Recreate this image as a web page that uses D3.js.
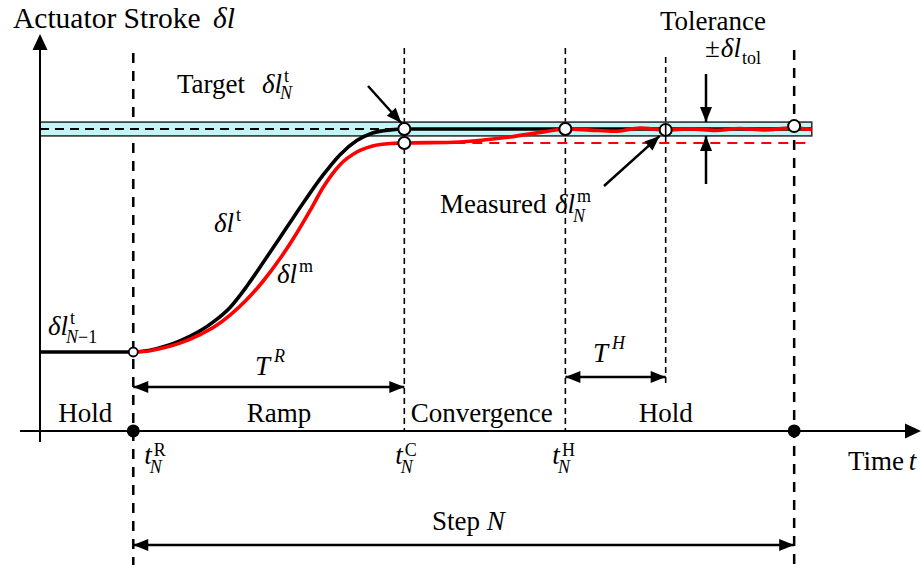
<!DOCTYPE html>
<html>
<head>
<meta charset="utf-8">
<script src="https://cdn.jsdelivr.net/npm/d3@7"></script>
<style>
  body { margin: 0; background: #fff; }
  text { font-family: "Liberation Serif", "Times New Roman", serif; fill: #000; }
</style>
</head>
<body>
<div id="chart"></div>
<script>
// 1: SIZES
const W = 923, H = 565;
const mainSize = 27, smallSize = 18;

// 2: DATA (time in arbitrary units 0..100, stroke normalised: previous = 0, target = 1)
const keyTimes = [10.6, 41.4, 59.7, 71.1, 85.7];   // tR, tC, tH, tH + TH, end of step
const bandEnd = 87.7;
const tolerance = 0.031;
const measuredOffset = 0.937;                       // early settling level of measured stroke
const axisStroke = -0.354;                          // where the time axis sits

// commanded (target) stroke  δl^t
const targetT = [0, 10.6, 12.5, 14.4, 15.9, 18.2, 19.7, 21.6, 23.5, 25.3, 27.3, 28.4, 30.2,
                 32.2, 34.1, 36.0, 37.8, 39.8, 41.4, 87.7];
const targetV = [0, 0, 0.008, 0.028, 0.05, 0.095, 0.135, 0.20, 0.295, 0.398, 0.515, 0.58, 0.685,
                 0.795, 0.885, 0.948, 0.982, 0.996, 1.0, 1.0];

// measured stroke  δl^m
const measuredT = [10.6, 12.5, 14.4, 15.9, 18.2, 19.9, 21.6, 23.5, 25.3, 27.3, 29.2, 30.7, 32.2,
                   34.1, 36.0, 37.8, 39.8, 41.4, 47.7, 53.4, 57.2, 59.9, 62.5, 65.3, 68.2,
                   71.1, 73.9, 76.7, 79.5, 82.4, 85.2, 87.7];
const measuredV = [0, 0.006, 0.022, 0.04, 0.078, 0.115, 0.165, 0.235, 0.315, 0.42, 0.535, 0.635, 0.74,
                   0.84, 0.897, 0.924, 0.935, 0.937, 0.942, 0.964, 0.987, 1.0, 0.995, 0.99, 1.004,
                   0.996, 1.0, 0.994, 1.002, 0.996, 1.004, 0.998];

// open circles on the curves
const openT = [41.4, 41.4, 59.7, 71.1, 85.7];
const openV = [1.0, 0.937, 1.0, 0.996, 1.013];

// phase labels on the time axis
const phaseNames = ["Hold", "Ramp", "Convergence", "Hold"];
const phaseTimes = [5.15, 27.15, 50.2, 71.1];

// 3: SCALES
const xScale = d3.scaleLinear().domain([0, 100]).range([40, 920]);
const yScale = d3.scaleLinear().domain([0, 1]).range([352, 129]);
const axisY = yScale(axisStroke);

const svg = d3.select("#chart").append("svg")
  .attr("width", W).attr("height", H);

// helpers
function arrowHead(x, y, ang, len = 15, half = 6) {
  const bx = x - len * Math.cos(ang), by = y - len * Math.sin(ang);
  const px = -Math.sin(ang) * half, py = Math.cos(ang) * half;
  svg.append("path")
    .attr("d", `M${x},${y}L${bx + px},${by + py}L${bx - px},${by - py}Z`)
    .attr("fill", "#000");
}

function arrow(x1, y1, x2, y2, both = false, width = 2.5) {
  svg.append("line")
    .attr("x1", x1).attr("y1", y1).attr("x2", x2).attr("y2", y2)
    .attr("stroke", "#000").attr("stroke-width", width);
  const a = Math.atan2(y2 - y1, x2 - x1);
  arrowHead(x2, y2, a);
  if (both) arrowHead(x1, y1, a + Math.PI);
}

function txt(x, y, s, italic = false, size = mainSize, anchor = "start") {
  return svg.append("text")
    .attr("x", x).attr("y", y)
    .attr("font-size", size)
    .attr("font-style", italic ? "italic" : "normal")
    .attr("text-anchor", anchor)
    .text(s);
}

// base symbol with stacked superscript / subscript; parts are [text, italic]
function mathSym(x, y, base, o = {}) {
  const b = txt(x, y, base, o.baseItalic !== false, o.size || mainSize);
  const w = b.node().getComputedTextLength();
  if (o.sup) {
    txt(x + w + (o.supDx || 1), y - (o.supDy || 11), o.sup, !!o.supItalic, smallSize);
  }
  if (o.sub) {
    const t = svg.append("text")
      .attr("x", x + w + (o.subDx || -1)).attr("y", y + (o.subDy || 7))
      .attr("font-size", smallSize);
    o.sub.forEach(([s, it]) => t.append("tspan").attr("font-style", it ? "italic" : "normal").text(s));
  }
  return w;
}

// 4: GUIDE LINES
const guideTop = [53, 48, 48, 57, 50];
const guideBottom = [H, axisY, axisY, 383, H];
const guideThick = [true, false, false, false, true];

keyTimes.forEach((t, i) => {
  svg.append("line")
    .attr("x1", xScale(t)).attr("x2", xScale(t))
    .attr("y1", guideTop[i]).attr("y2", guideBottom[i])
    .attr("stroke", "#000")
    .attr("stroke-width", guideThick[i] ? 2.5 : 1.6)
    .attr("stroke-dasharray", guideThick[i] ? "10,8" : "6,4");
});

// 5: TOLERANCE BAND
svg.append("rect")
  .attr("x", xScale(0)).attr("y", yScale(1 + tolerance))
  .attr("width", xScale(bandEnd) - xScale(0))
  .attr("height", yScale(1 - tolerance) - yScale(1 + tolerance))
  .attr("fill", "#c2f6f6").attr("stroke", "#333").attr("stroke-width", 1.6);

// target level (dashed) up to convergence
svg.append("line")
  .attr("x1", xScale(0)).attr("x2", xScale(keyTimes[1]))
  .attr("y1", yScale(1)).attr("y2", yScale(1))
  .attr("stroke", "#000").attr("stroke-width", 2).attr("stroke-dasharray", "9,6");

// measured early level (red dashed)
svg.append("line")
  .attr("x1", xScale(keyTimes[1])).attr("x2", xScale(bandEnd - 0.6))
  .attr("y1", yScale(measuredOffset)).attr("y2", yScale(measuredOffset))
  .attr("stroke", "#f00").attr("stroke-width", 2).attr("stroke-dasharray", "10,7");

// 6: CURVES
const line = d3.line()
  .x(d => xScale(d[0]))
  .y(d => yScale(d[1]))
  .curve(d3.curveMonotoneX);

svg.append("path")
  .datum(d3.zip(targetT, targetV))
  .attr("fill", "none").attr("stroke", "#000").attr("stroke-width", 3.6)
  .attr("d", line);

svg.append("path")
  .datum(d3.zip(measuredT, measuredV))
  .attr("fill", "none").attr("stroke", "#f00").attr("stroke-width", 3.6)
  .attr("d", line);

// 7: MARKERS
svg.append("circle")
  .attr("cx", xScale(keyTimes[0])).attr("cy", yScale(0)).attr("r", 4.5)
  .attr("fill", "#fff").attr("stroke", "#000").attr("stroke-width", 1.8);

svg.selectAll(".open-pt")
  .data(d3.zip(openT, openV))
  .enter().append("circle")
  .attr("class", "open-pt")
  .attr("cx", d => xScale(d[0])).attr("cy", d => yScale(d[1])).attr("r", 6)
  .attr("fill", "#fff").attr("stroke", "#000").attr("stroke-width", 2);

// thin guide passes through the hold-end circle
svg.append("line")
  .attr("x1", xScale(keyTimes[3])).attr("x2", xScale(keyTimes[3]))
  .attr("y1", yScale(openV[3]) - 6).attr("y2", yScale(openV[3]) + 6)
  .attr("stroke", "#000").attr("stroke-width", 1.6);

// 8: AXES
svg.append("line")
  .attr("x1", xScale(0)).attr("x2", xScale(0))
  .attr("y1", axisY + 11).attr("y2", 48)
  .attr("stroke", "#000").attr("stroke-width", 2);
arrowHead(xScale(0), 34, -Math.PI / 2, 16, 7.5);

svg.append("line")
  .attr("x1", 20).attr("x2", 908)
  .attr("y1", axisY).attr("y2", axisY)
  .attr("stroke", "#000").attr("stroke-width", 2);
arrowHead(921, axisY, 0, 16, 7.5);

[keyTimes[0], keyTimes[4]].forEach(t => {
  svg.append("circle")
    .attr("cx", xScale(t)).attr("cy", axisY).attr("r", 6.5)
    .attr("fill", "#000");
});

// 9: ANNOTATION ARROWS
arrow(368, 86, xScale(keyTimes[1]) - 3, yScale(1) - 6);
arrow(604, 186, xScale(keyTimes[3]) - 6, yScale(openV[3]) + 6);
arrow(706, 74, 706, yScale(1 + tolerance));
arrow(706, 184, 706, yScale(1 - tolerance));
arrow(xScale(keyTimes[0]), 387, xScale(keyTimes[1]), 387, true);
arrow(xScale(keyTimes[2]), 377, xScale(keyTimes[3]), 377, true);
arrow(xScale(keyTimes[0]), 545, xScale(keyTimes[4]), 545, true);

// 10: TEXT
const space = mainSize * 0.25;

txt(13, 28, "Actuator Stroke", false, 29.5);
txt(213, 28, "δl", true, 29.5);

txt(177, 93, "Target");
mathSym(262, 93, "δl", { sup: "t", sub: [["N", true]], supDx: 2, subDx: -2, subDy: 6 });

txt(713, 30, "Tolerance", false, mainSize, "middle");
const pm = txt(705, 57, "±").node().getComputedTextLength();
mathSym(705 + pm + 1, 57, "δl", { sub: [["tol", false]], subDy: 7, subDx: 1 });

txt(440, 213, "Measured");
mathSym(555, 213, "δl", { sup: "m", sub: [["N", true]], supDx: 2, subDx: -2, subDy: 9 });

mathSym(214, 232, "δl", { sup: "t", supDx: 2 });
mathSym(277, 283, "δl", { sup: "m", supDx: 2 });
mathSym(48, 335, "δl", { sup: "t", sub: [["N", true], ["−1", false]], supDx: 2, subDx: -2, subDy: 8 });

mathSym(255, 375, "T", { sup: "R", supItalic: true, supDx: 4, supDy: 13 });
mathSym(593, 362, "T", { sup: "H", supItalic: true, supDx: 4, supDy: 13 });

phaseNames.forEach((name, i) => {
  txt(xScale(phaseTimes[i]), 422, name, false, mainSize, "middle");
});

[keyTimes[0], keyTimes[1], keyTimes[2]].forEach((t, i) => {
  mathSym(xScale(t) + [11, -9, -13][i], 464, "t",
    { sup: ["R", "C", "H"][i], sub: [["N", true]], supDx: 2, supDy: 8, subDx: -2, subDy: 9 });
});

const tt = txt(848, 470, "Time").node().getComputedTextLength();
txt(848 + tt + space - 2, 470, "t", true);

const st = txt(432, 530, "Step").node().getComputedTextLength();
txt(432 + st + space, 530, "N", true);
</script>
</body>
</html>
